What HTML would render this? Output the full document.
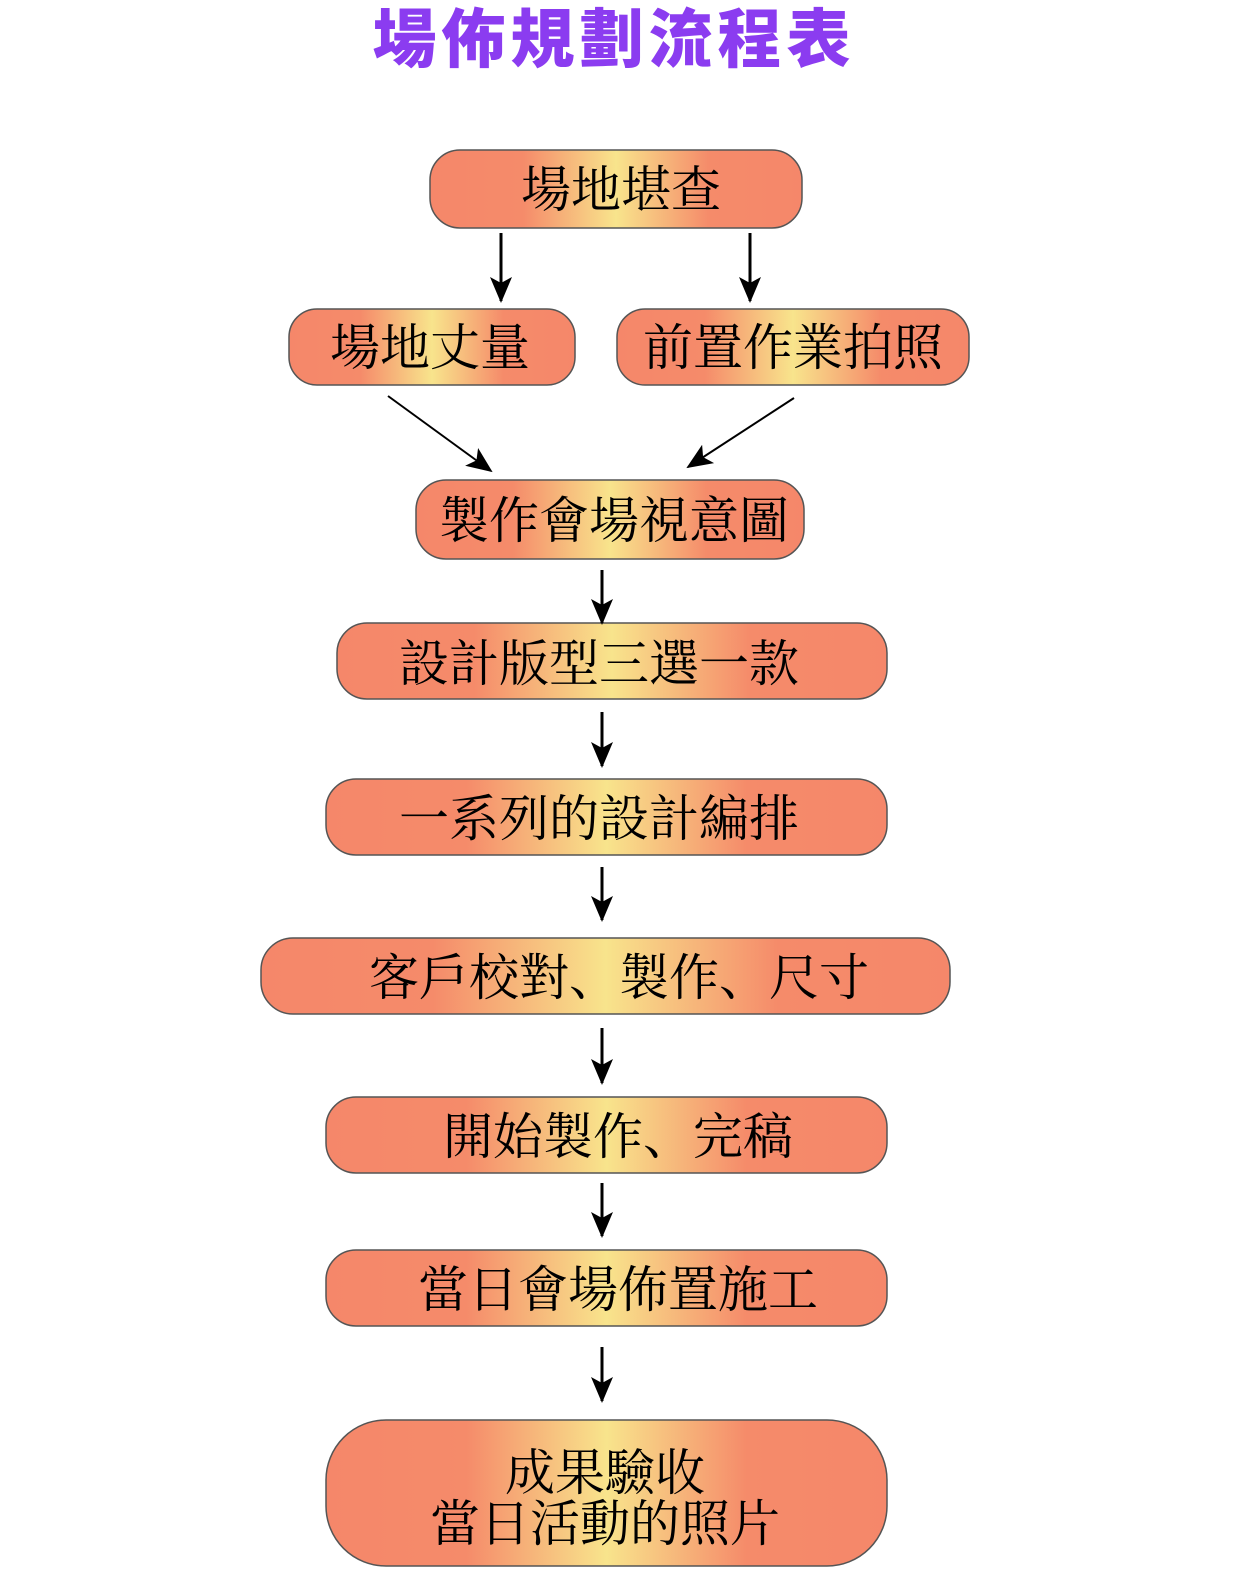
<!DOCTYPE html>
<html><head><meta charset="utf-8"><style>
html,body{margin:0;padding:0;background:#fff;}
</style></head><body>
<svg width="1243" height="1590" xmlns="http://www.w3.org/2000/svg">
<defs>
<linearGradient id="g" x1="0" y1="0" x2="1" y2="0">
<stop offset="0" stop-color="#f5876a"/>
<stop offset="0.25" stop-color="#f58b6a"/>
<stop offset="0.5" stop-color="#f8e48c"/>
<stop offset="0.75" stop-color="#f58b6a"/>
<stop offset="1" stop-color="#f5876a"/>
</linearGradient>
<marker id="b" markerWidth="26" markerHeight="26" refX="24" refY="13" orient="auto" markerUnits="userSpaceOnUse" viewBox="0 0 26 26">
<path d="M0,2 L26,13 L0,24 L6,13 Z" fill="#000"/>
</marker>
</defs>
<text x="614" y="62" text-anchor="middle" font-family="'Noto Sans CJK TC','WenQuanYi Zen Hei',sans-serif" font-weight="900" font-size="64" fill="#8b3cf0" letter-spacing="5">場佈規劃流程表</text>
<g stroke="#555" stroke-width="1.5" fill="url(#g)">
<rect x="430" y="150" width="372" height="78" rx="30"/>
<rect x="289" y="309" width="286" height="76" rx="28"/>
<rect x="617" y="309" width="352" height="76" rx="28"/>
<rect x="416" y="480" width="388" height="79" rx="30"/>
<rect x="337" y="623" width="550" height="76" rx="30"/>
<rect x="326" y="779" width="561" height="76" rx="30"/>
<rect x="261" y="938" width="689" height="76" rx="32"/>
<rect x="326" y="1097" width="561" height="76" rx="30"/>
<rect x="326" y="1250" width="561" height="76" rx="30"/>
<rect x="326" y="1420" width="561" height="146" rx="60"/>
</g>
<g font-family="'Liberation Serif','Noto Serif CJK SC',serif" font-size="50" fill="#000" text-anchor="middle">
<text x="621" y="207">場地堪查</text>
<text x="430" y="365">場地丈量</text>
<text x="793" y="365">前置作業拍照</text>
<text x="614" y="538">製作會場視意圖</text>
<text x="599" y="681">設計版型三選一款</text>
<text x="599" y="836">一系列的設計編排</text>
<text x="619" y="995">客戶校對、製作、尺寸</text>
<text x="618" y="1154">開始製作、完稿</text>
<text x="618" y="1307">當日會場佈置施工</text>
<text x="605" y="1490">成果驗收</text>
<text x="605" y="1541">當日活動的照片</text>
</g>
<g stroke="#000" stroke-width="3" fill="none">
<line x1="501" y1="233" x2="501" y2="301" marker-end="url(#b)"/>
<line x1="750" y1="233" x2="750" y2="301" marker-end="url(#b)"/>
<line x1="602" y1="570" x2="602" y2="623" marker-end="url(#b)"/>
<line x1="602" y1="712" x2="602" y2="766" marker-end="url(#b)"/>
<line x1="602" y1="867" x2="602" y2="920" marker-end="url(#b)"/>
<line x1="602" y1="1028" x2="602" y2="1083" marker-end="url(#b)"/>
<line x1="602" y1="1183" x2="602" y2="1236" marker-end="url(#b)"/>
<line x1="602" y1="1347" x2="602" y2="1401" marker-end="url(#b)"/>
</g>
<g stroke="#000" stroke-width="2" fill="none">
<line x1="388" y1="396" x2="491" y2="471" marker-end="url(#b)"/>
<line x1="794" y1="398" x2="688" y2="467" marker-end="url(#b)"/>
</g>
</svg>
</body></html>
